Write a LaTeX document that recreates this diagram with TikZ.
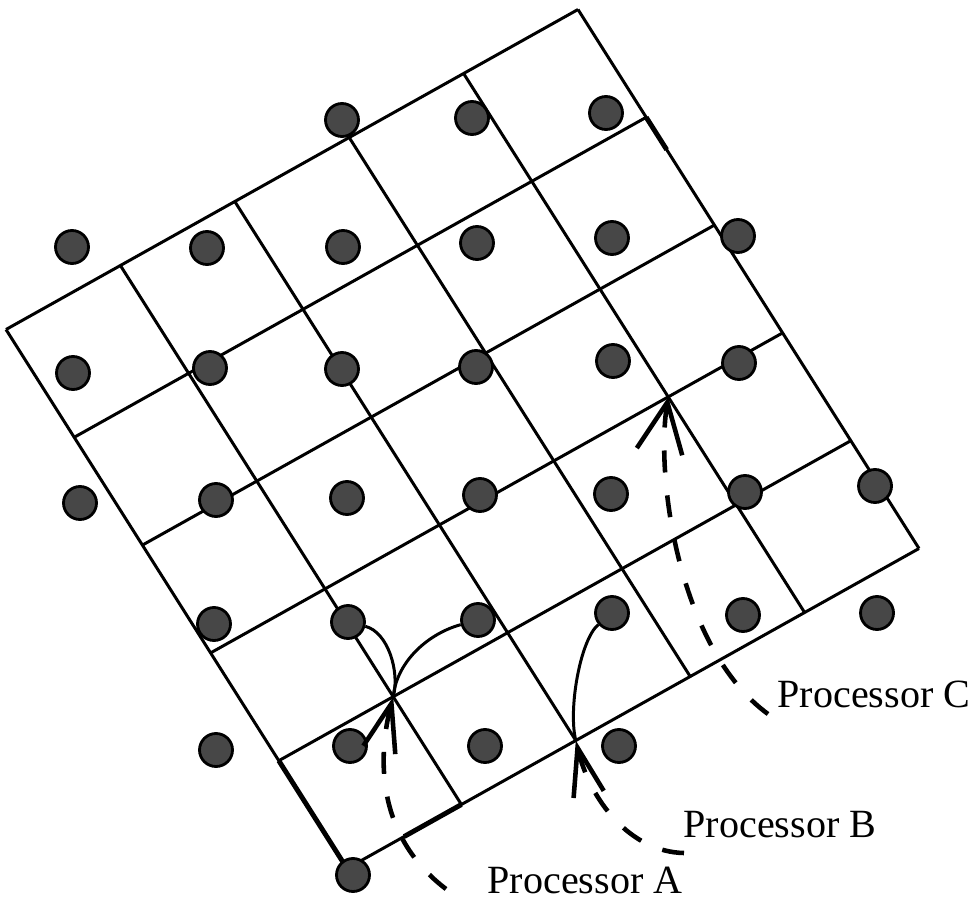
\documentclass[tikz,border=0pt]{standalone}
\usepackage{fontspec}
\setmainfont{Liberation Serif}
\usetikzlibrary{arrows.meta,calc}
\definecolor{dotgray}{HTML}{474747}

\begin{document}
\begin{tikzpicture}[x=1cm,y=-1cm,>=Stealth,
  cell/.style={line width=.85pt},
  retrace/.style={line width=1.4pt},
  particle/.style={circle,fill=dotgray,draw=black,line width=.8pt,minimum size=.33cm,inner sep=0pt},
  link/.style={line width=.85pt},
  procline/.style={line width=1.3pt,dash pattern=on .22cm off .23cm},
  proc/.style={font=\fontsize{11.4}{13}\selectfont,anchor=base west,inner sep=0pt}]
 \useasboundingbox (0,0) rectangle (9.73,9.24);
 \foreach \i in {0,...,5}
  \foreach \j in {0,...,5}
   \coordinate (g\i\j) at ({5.78+.682*\i-1.144*\j},{.095+1.078*\i+.64*\j});
 \foreach \k in {0,...,5}{
  \draw[cell] (g\k0)--(g\k5);
  \draw[cell] (g0\k)--(g5\k);
 }
 \draw[retrace] (g45)--(g55);
 \draw[retrace] (g54)--($(g54)!.5!(g55)$);
 \draw[retrace] (g10)--($(g10)!.3!(g20)$);
 \foreach \n/\x/\y in {20/3.42/1.20,30/4.72/1.18,40/6.06/1.13,
   01/.72/2.47,11/2.07/2.48,21/3.43/2.47,31/4.77/2.43,41/6.12/2.38,51/7.38/2.36,
   02/.73/3.73,12/2.10/3.68,22/3.42/3.69,32/4.76/3.67,42/6.13/3.61,52/7.39/3.63,
   03/.80/5.03,13/2.16/5.00,23/3.47/4.98,33/4.80/4.95,43/6.11/4.94,53/7.45/4.92,63/8.75/4.86,
   14/2.14/6.24,24/3.48/6.22,34/4.78/6.20,44/6.12/6.13,54/7.43/6.15,64/8.77/6.13,
   15/2.16/7.50,25/3.50/7.46,35/4.85/7.46,45/6.19/7.46,
   26/3.53/8.75}
  \node[particle] (d\n) at (\x,\y) {};
 \draw[link] (d24) .. controls (3.88,6.32) and (4.00,6.72) .. (g44);
 \draw[link] (d34) .. controls (4.30,6.33) and (3.97,6.60) .. (g44);
 \draw[link] (d44) .. controls (5.80,6.40) and (5.68,7.10) .. (g53);
 \node[proc] (labA) at (4.87,8.93) {Processor A};
 \node[proc] (labB) at (6.83,8.37) {Processor B};
 \node[proc] (labC) at (7.77,7.07) {Processor C};
 \coordinate (tA) at (4.46,8.89);
 \coordinate (tB) at (6.84,8.53);
 \coordinate (tC) at (7.68,7.14);
 \draw[procline,-{Straight Barb[length=.48cm,width=.33cm,line width=1.3pt]}]
  (tA) .. controls (3.75,8.35) and (3.78,7.55) .. (g44);
 \draw[procline,-{Straight Barb[length=.48cm,width=.31cm,line width=1.3pt]}]
  (tB) .. controls (6.30,8.52) and (5.90,8.00) .. (g53);
 \draw[procline,-{Straight Barb[length=.5cm,width=.46cm,line width=1.3pt]}]
  (tC) .. controls (6.80,6.50) and (6.55,4.80) .. (g31);
\end{tikzpicture}
\end{document}
